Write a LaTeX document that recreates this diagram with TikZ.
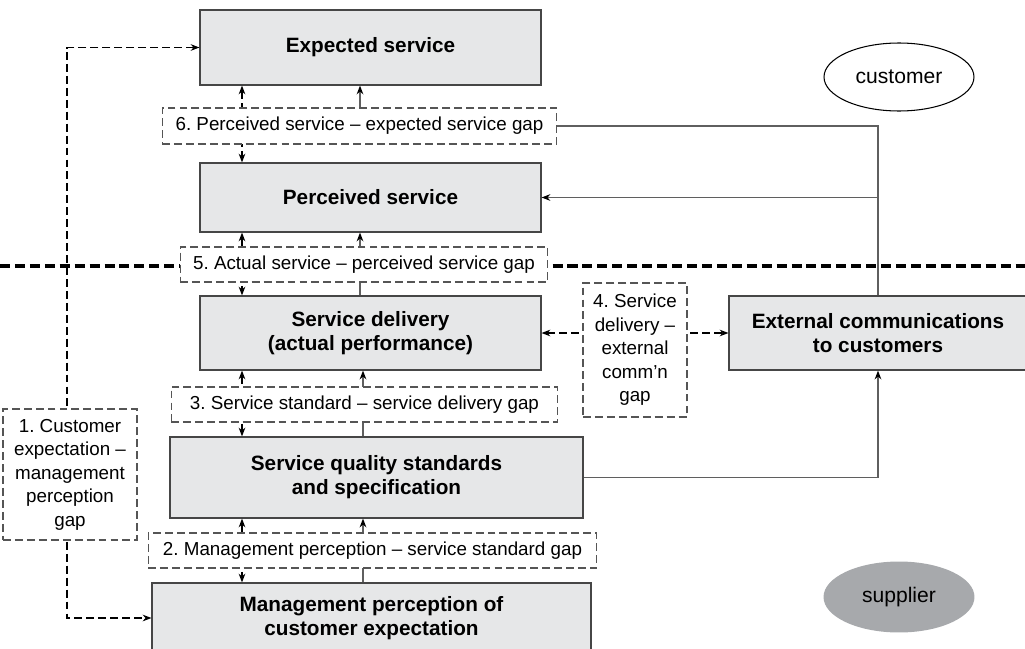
\documentclass[tikz,border=0pt]{standalone}
\usepackage{fontspec}
\setmainfont{Liberation Sans}
\usetikzlibrary{arrows.meta,shapes.geometric}
\definecolor{boxgray}{RGB}{230,231,232}
\definecolor{supgray}{RGB}{167,169,172}
\definecolor{edgegray}{RGB}{70,70,70}
\definecolor{linegray}{RGB}{95,95,95}
\definecolor{dashgray}{RGB}{85,85,85}
\frenchspacing
\begin{document}
\begin{tikzpicture}[x=0.02cm,y=-0.02cm,>={Stealth[length=5pt,width=3.8pt,color=black]},
  box/.style={draw=edgegray,fill=boxgray,line width=0.7pt,inner sep=0pt,align=center,
    font=\fontsize{11.8}{13.6}\selectfont\bfseries},
  gapbox/.style={draw=dashgray,dash pattern=on 4.5pt off 2.3pt,fill=white,line width=0.6pt,
    inner sep=0pt,align=center,font=\fontsize{10.7}{13.4}\selectfont},
  side/.style={ellipse,draw,line width=0.6pt,inner sep=0pt,font=\fontsize{12}{14}\selectfont},
  link/.style={draw=linegray,line width=0.7pt},
  dlink/.style={draw=black,dash pattern=on 4.5pt off 2.3pt,line width=0.6pt},
  divider/.style={line width=1.8pt,dash pattern=on 5.7pt off 2.8pt}]
\useasboundingbox (0,0) rectangle (1025,649);

% main boxes
\node[box,minimum width=6.82cm,minimum height=1.50cm] (exp) at (370.5,47.5) {Expected service};
\node[box,minimum width=6.82cm,minimum height=1.38cm] (per) at (370.5,197.5) {Perceived service};
\node[box,minimum width=6.82cm,minimum height=1.48cm] (del) at (370.5,333) {Service delivery\\(actual performance)};
\node[box,minimum width=8.26cm,minimum height=1.62cm] (sqs) at (376.5,477.5) {Service quality standards\\and specification};
\node[box,minimum width=8.78cm,minimum height=1.40cm] (mgt) at (371.5,618) {Management perception of\\customer expectation};
\node[box,minimum width=5.96cm,minimum height=1.48cm] (ext) at (878,333) {External communications\\to customers};

\node[side,minimum width=3.0cm,minimum height=1.36cm] (cust) at (899,77) {customer};
\node[side,draw=none,fill=supgray,minimum width=3.02cm,minimum height=1.42cm] (supp) at (899,597) {supplier};

% customer / supplier line
\draw[divider] (0,266) -- (1025,266);

% links between the stacked boxes
\draw[dlink,<->] (242,0 |- exp.south) -- (242,0 |- per.north);
\foreach \up/\dn/\xm in {per/del/360,del/sqs/363,sqs/mgt/363}{
  \draw[dlink,<->] (242,0 |- \up.south) -- (242,0 |- \dn.north);
  \draw[link,->] (\xm,0 |- \dn.north) -- (\xm,0 |- \up.south);
}

% external communications
\draw[link,->] (ext.north) |- (360,126) -- (360,0 |- exp.south);
\draw[link,->] (ext.north |- per.east) -- (per.east);
\draw[link,->] (sqs.east) -| (ext.south);
\draw[dlink,<->] (del.east) -- (ext.west);
\draw[dlink,<->] (exp.west) -| (67,330) |- (mgt.west);

% gaps
\node[gapbox,minimum width=7.90cm,minimum height=0.72cm] (gap6) at (359.5,126) {6. Perceived service -- expected service gap};
\node[gapbox,minimum width=7.36cm,minimum height=0.70cm] (gap5) at (364,264.5) {5. Actual service -- perceived service gap};
\node[gapbox,minimum width=2.08cm,minimum height=2.68cm] (gap4) at (635,350) {4. Service\\delivery --\\external\\comm'n\\gap};
\node[gapbox,minimum width=7.74cm,minimum height=0.70cm] (gap3) at (364.5,404.5) {3. Service standard -- service delivery gap};
\node[gapbox,minimum width=8.98cm,minimum height=0.70cm] (gap2) at (372.5,550.5) {2. Management perception -- service standard gap};
\node[gapbox,minimum width=2.68cm,minimum height=2.62cm] (gap1) at (70,474.5) {1. Customer\\expectation --\\management\\perception\\gap};
\end{tikzpicture}
\end{document}
